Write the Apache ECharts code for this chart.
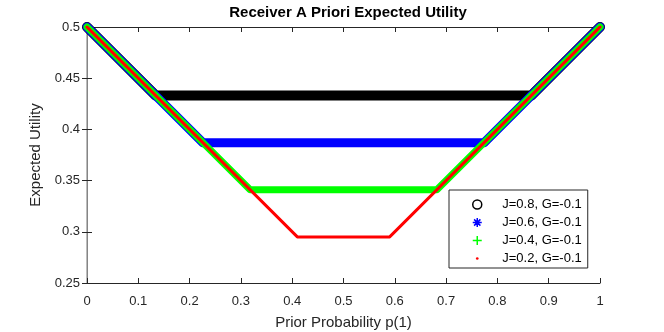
<!DOCTYPE html>
<html>
<head>
<meta charset="utf-8">
<script src="https://cdn.jsdelivr.net/npm/echarts@6/dist/echarts.min.js"></script>
<style>
html, body { margin: 0; padding: 0; background: #fff; }
#chart { width: 664px; height: 332px; }
</style>
</head>
<body>
<div id="chart"></div>
<script>
// breakpoints of each curve (p, expected utility)
var pJ08 = [0, 0.134, 0.866, 1];
var uJ08 = [0.5, 0.433, 0.433, 0.5];
var pJ06 = [0, 0.226, 0.774, 1];
var uJ06 = [0.5, 0.387, 0.387, 0.5];
var pJ04 = [0, 0.318, 0.682, 1];
var uJ04 = [0.5, 0.341, 0.341, 0.5];
var pJ02 = [0, 0.41, 0.59, 1];
var uJ02 = [0.5, 0.295, 0.295, 0.5];

var names = ['J=0.8, G=-0.1', 'J=0.6, G=-0.1', 'J=0.4, G=-0.1', 'J=0.2, G=-0.1'];
var colors = ['#000000', '#0000ff', '#00ff00', '#ff0000'];
var widths = [10, 9, 7, 3];

var axisColor = '#262626';
var font = '"Liberation Sans", Arial, sans-serif';

function pairs(xs, ys) {
    return xs.map(function (x, i) { return [x, ys[i]]; });
}

var chart = echarts.init(document.getElementById('chart'));

var seriesData = [pairs(pJ08, uJ08), pairs(pJ06, uJ06), pairs(pJ04, uJ04), pairs(pJ02, uJ02)];

var option = {
    animation: false,
    title: {
        text: 'Receiver A Priori Expected Utility',
        left: 343, top: 0, textAlign: 'center',
        textStyle: { fontFamily: font, fontSize: 15, fontWeight: 'bold', color: '#000' }
    },
    grid: { left: 87, right: 64, top: 27, bottom: 49, outerBoundsMode: 'none' },
    xAxis: [{
        type: 'value', min: 0, max: 1, interval: 0.1,
        name: 'Prior Probability p(1)', nameLocation: 'middle', nameGap: 32,
        nameTextStyle: { fontFamily: font, fontSize: 15, color: axisColor },
        axisLine: { lineStyle: { color: axisColor } },
        axisTick: { inside: true, length: 5, lineStyle: { color: axisColor } },
        axisLabel: { fontFamily: font, fontSize: 13, color: axisColor, margin: 12 },
        splitLine: { show: false }
    }, {
        type: 'value', min: 0, max: 1, interval: 0.1, position: 'top',
        axisLine: { show: true, lineStyle: { color: axisColor } },
        axisTick: { inside: true, length: 5, lineStyle: { color: axisColor } },
        axisLabel: { show: false },
        splitLine: { show: false }
    }],
    yAxis: [{
        type: 'value', min: 0.25, max: 0.5, interval: 0.05,
        name: 'Expected Utility', nameLocation: 'middle', nameGap: 39,
        nameTextStyle: { fontFamily: font, fontSize: 15, color: axisColor },
        axisLine: { show: true, lineStyle: { color: axisColor } },
        axisTick: { show: true, inside: true, length: 5, lineStyle: { color: axisColor } },
        axisLabel: { fontFamily: font, fontSize: 13, color: axisColor, margin: 7 },
        splitLine: { show: false }
    }, {
        type: 'value', min: 0.25, max: 0.5, interval: 0.05, position: 'right',
        axisLine: { show: true, lineStyle: { color: '#a6a6a6', width: 1.5 } },
        axisTick: { show: true, inside: true, length: 5, lineStyle: { color: axisColor } },
        axisLabel: { show: false },
        splitLine: { show: false }
    }],
    legend: {
        orient: 'vertical',
        left: 449, top: 190,
        padding: [8, 6, 3, 23],
        itemGap: 5,
        itemWidth: 40, itemHeight: 9,
        borderColor: axisColor, borderWidth: 1,
        backgroundColor: '#fff',
        textStyle: { fontFamily: font, fontSize: 13, color: '#000' },
        data: [
            { name: names[0], icon: 'circle',
              itemStyle: { color: 'rgba(0,0,0,0)', borderColor: '#000', borderWidth: 1.5 } },
            { name: names[1], icon: 'path://M5,0L5,10M0,5L10,5M1.5,1.5L8.5,8.5M1.5,8.5L8.5,1.5',
              itemStyle: { color: 'rgba(0,0,0,0)', borderColor: '#0000ff', borderWidth: 1.5 } },
            { name: names[2], icon: 'path://M5,0L5,10M0,5L10,5',
              itemStyle: { color: 'rgba(0,0,0,0)', borderColor: '#00ff00', borderWidth: 1.5 } },
            { name: names[3], icon: 'path://M5,0L5,0M5,10L5,10M0,5L0,5M10,5L10,5M6.5,5A1.5,1.5,0,1,1,3.5,5A1.5,1.5,0,1,1,6.5,5Z',
              itemStyle: { color: '#ff0000', borderWidth: 0 } }
        ]
    },
    series: seriesData.map(function (d, i) {
        return {
            name: names[i],
            type: 'line',
            data: d,
            showSymbol: false,
            symbol: 'none',
            clip: false,
            color: colors[i],
            lineStyle: { color: colors[i], width: widths[i], cap: 'round', join: 'round' },
            z: 2 + i
        };
    })
};

chart.setOption(option);
</script>
</body>
</html>
